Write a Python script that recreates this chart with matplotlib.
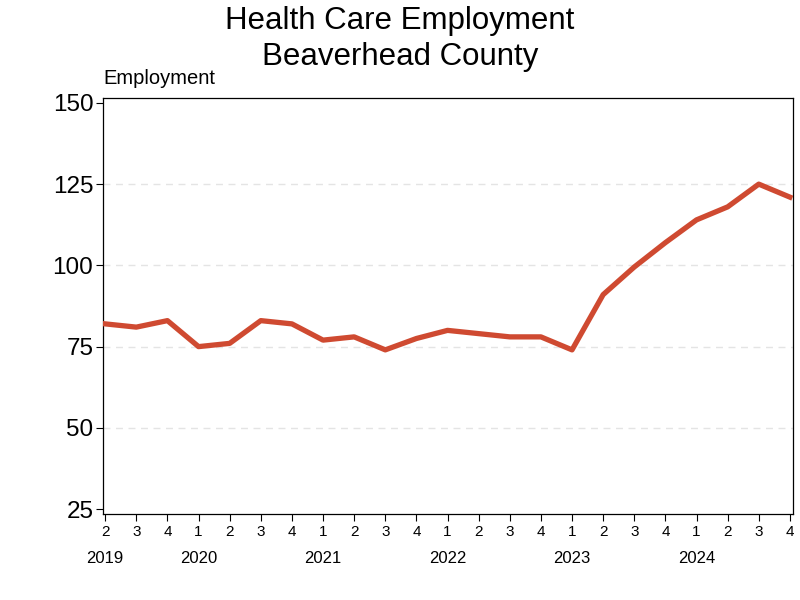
import matplotlib
matplotlib.use("Agg")
import matplotlib.pyplot as plt

plt.rcParams['font.family'] = ['Liberation Sans', 'DejaVu Sans']

quarters = [2, 3, 4, 1, 2, 3, 4, 1, 2, 3, 4, 1, 2, 3, 4, 1, 2, 3, 4, 1, 2, 3, 4]
years = [2019, 2019, 2019, 2020, 2020, 2020, 2020, 2021, 2021, 2021, 2021,
         2022, 2022, 2022, 2022, 2023, 2023, 2023, 2023, 2024, 2024, 2024, 2024]
employment = [82, 81, 83, 75, 76, 83, 82, 77, 78, 74, 77.5, 80, 79, 78, 78,
              74, 91, 99.5, 107, 114, 118, 125, 121]
yticks = [25, 50, 75, 100, 125, 150]

x = list(range(len(employment)))

fig = plt.figure(figsize=(8, 6), dpi=100)
ax = fig.add_axes([103 / 800, 1 - 514 / 600, 690 / 800, 416 / 600])

for t in yticks[1:-1]:
    ax.axhline(t, color='#e4e4e4', lw=1, ls=(0, (5, 4)), zorder=1)

ax.plot(x, employment, color='#cf4a31', lw=3.8, solid_joinstyle='round', zorder=3)

ax.set_xlim(-0.07, len(x) - 1 + 0.1)
ax.set_ylim(23.5, 151.5)
ax.set_yticks(yticks)
ax.set_yticklabels([str(t) for t in yticks], fontsize=17.5)
ax.set_xticks(x)
ax.set_xticklabels([str(q) for q in quarters], fontsize=11)
ax.tick_params(axis='x', length=5, pad=3)
ax.tick_params(axis='y', length=5, pad=2)

for spine in ax.spines.values():
    spine.set_linewidth(0.9)

# year labels below the first quarter of each year
seen = set()
for i, yr in enumerate(years):
    if yr not in seen:
        seen.add(yr)
        ax.text(i, -0.108, str(yr), transform=ax.get_xaxis_transform(),
                ha='center', va='center', fontsize=12)

fig.text(0.5, 1 - 21 / 600, 'Health Care Employment', ha='center', va='center', fontsize=22.5)
fig.text(0.5, 1 - 57 / 600, 'Beaverhead County', ha='center', va='center', fontsize=22.5)
fig.text(103 / 800, 1 - 79 / 600, 'Employment', ha='left', va='center', fontsize=14.5)

fig.savefig('out.png', dpi=100)
